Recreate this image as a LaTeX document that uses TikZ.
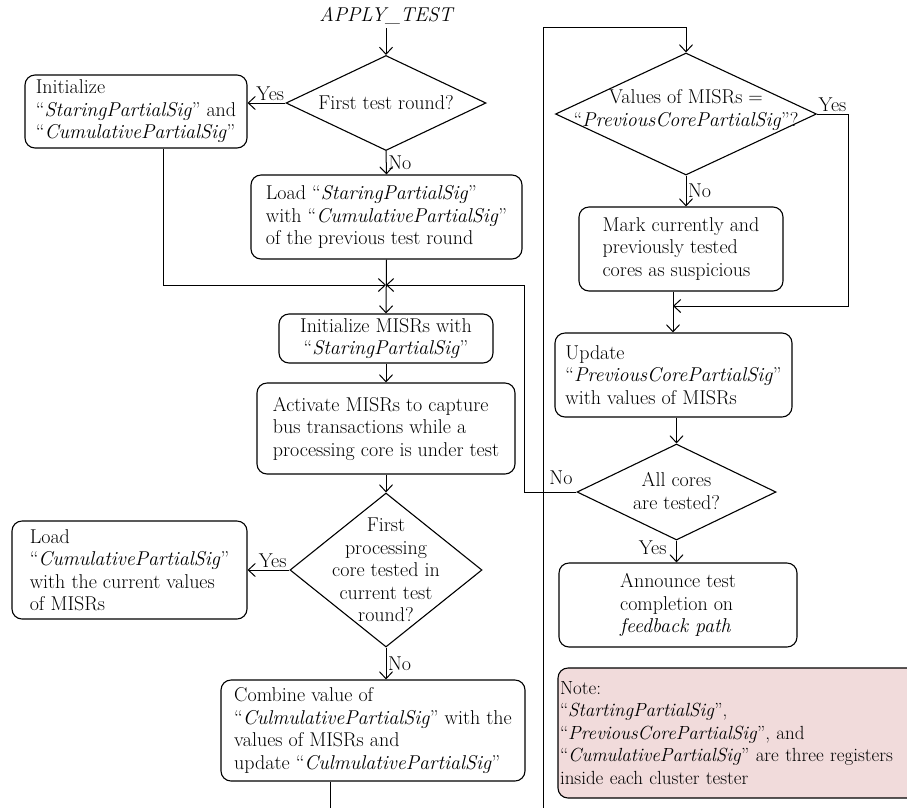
\documentclass[tikz,border=0pt]{standalone}
\usetikzlibrary{shapes.geometric,arrows.meta}
\definecolor{notepink}{RGB}{241,219,219}
\begin{document}
\begin{tikzpicture}[x=1pt,y=-1pt,
  font=\fontsize{20}{22.5}\selectfont,
  conn/.style={line width=1pt,-{Straight Barb[length=7pt,width=13pt]}},
  stepbox/.style={draw,line width=1.1pt,rounded corners=10pt,inner sep=2pt},
  decision/.style={draw,diamond,line width=1.1pt,inner sep=0pt},
  lbl/.style={inner sep=1.5pt}]
\useasboundingbox (0,0) rectangle (907,807);
\clip (0,0) rectangle (907,807);

% ---- left column ----
\node[font=\fontsize{20}{22.5}\selectfont\itshape] (start) at (386,16) {APPLY\_TEST};
\node[decision,minimum width=200pt,minimum height=95pt] (d1) at (386,103) {};
\node (d1t) at (d1) {First test round?};
\node[stepbox,align=left,minimum width=222pt,minimum height=73pt] (b1) at (136,111.5)
  {Initialize\\“\textit{StaringPartialSig}” and\\“\textit{CumulativePartialSig}”};
\node[stepbox,align=left,minimum width=271pt,minimum height=84pt] (b2) at (386.5,217)
  {Load “\textit{StaringPartialSig}”\\with “\textit{CumulativePartialSig}”\\of the previous test round};
\coordinate (j1) at (386,285);
\node[stepbox,align=center,minimum width=214pt,minimum height=49pt] (b3) at (386,338.5)
  {Initialize MISRs with\\“\textit{StaringPartialSig}”};
\node[stepbox,align=left,minimum width=258pt,minimum height=91pt] (b4) at (386,428.5)
  {Activate MISRs to capture\\bus transactions while a\\processing core is under test};
\node[decision,minimum width=192pt,minimum height=154pt] (d5) at (386,570) {};
\node[align=center] (d5t) at (386,570) {First\\processing\\core tested in\\current test\\round?};
\node[stepbox,align=left,minimum width=235pt,minimum height=98pt] (b7) at (129.5,570)
  {Load\\“\textit{CumulativePartialSig}”\\with the current values\\of MISRs};
\node[stepbox,align=left,minimum width=304pt,minimum height=101pt] (b8) at (373,730.5)
  {Combine value of\\“\textit{CulmulativePartialSig}” with the\\values of MISRs and\\update “\textit{CulmulativePartialSig}”};

% ---- right column ----
\node[decision,minimum width=261pt,minimum height=122pt] (d3) at (686,114) {};
\node[align=center] (d3t) at (686,110) {Values of MISRs =\\“\textit{PreviousCorePartialSig}”?};
\node[stepbox,align=left,minimum width=204pt,minimum height=84pt] (b9) at (681,249)
  {Mark currently and\\previously tested\\cores as suspicious};
\coordinate (j2) at (673,306);
\coordinate (r1) at (848,306);
\node[stepbox,align=left,minimum width=237pt,minimum height=84pt] (b10) at (673.5,375)
  {Update\\“\textit{PreviousCorePartialSig}”\\with values of MISRs};
\node[decision,minimum width=199pt,minimum height=96pt] (d4) at (676.5,492) {};
\node[align=center] (d4t) at (676.5,491) {All cores\\are tested?};
\node[stepbox,align=left,minimum width=238pt,minimum height=84pt] (b11) at (678,605)
  {Announce test\\completion on\\\textit{feedback path}};
\node[stepbox,fill=notepink,align=left,text width=366pt,inner xsep=2pt,minimum height=130pt,
      font=\fontsize{19}{22.5}\selectfont] (note) at (743,733)
  {Note:\\“\textit{StartingPartialSig}”,\\“\textit{PreviousCorePartialSig}”, and\\“\textit{CumulativePartialSig}” are three registers\\inside each cluster tester};

% ---- connectors ----
\draw[conn] (start) -- (d1.north);
\draw[conn] (d1.west) -- node[above,pos=0.4,lbl]{Yes} (d1.west -| b1.east);
\draw[conn] (d1.south) -- node[right,lbl]{No} (b2.north);
\draw[conn] ([xshift=27pt]b1.south) |- (j1);
\draw[conn] (b2.south) -- (b3.north);
\draw[conn] (b3.south) -- (b4.north);
\draw[conn] (b4.south) -- (d5.north);
\draw[conn] (d5.west) -- node[above,pos=0.4,lbl]{Yes} (d5.west -| b7.east);
\draw[conn] (d5.south) -- node[right,lbl]{No} (d5.south |- b8.north);

% loop back from the last step of a core test to the signature check
\coordinate (lpa) at (543,830);
\coordinate (lpb) at (543,27);
\draw[conn] ([xshift=-43pt]b8.south) |- (lpa) -- (lpb) -| (d3.north);

\draw[conn] (d3.east) -| node[above,pos=0.25,lbl]{Yes} (r1) -- (j2);
\draw[conn] (d3.south) -- node[right,lbl]{No} (d3.south |- b9.north);
\draw[conn] (b9.south -| j2) -- (b10.north -| j2);
\draw[conn] (b10.south -| d4.north) -- (d4.north);
\draw[conn] (d4.south) -- node[left,pos=0.35,lbl,xshift=-8pt]{Yes} (d4.south |- b11.north);
\coordinate (k1) at (524,285);
\draw[conn] (d4.west) node[above left,lbl,yshift=5pt,xshift=-2pt]{No} -| (k1) -- (j1);
\end{tikzpicture}
\end{document}
